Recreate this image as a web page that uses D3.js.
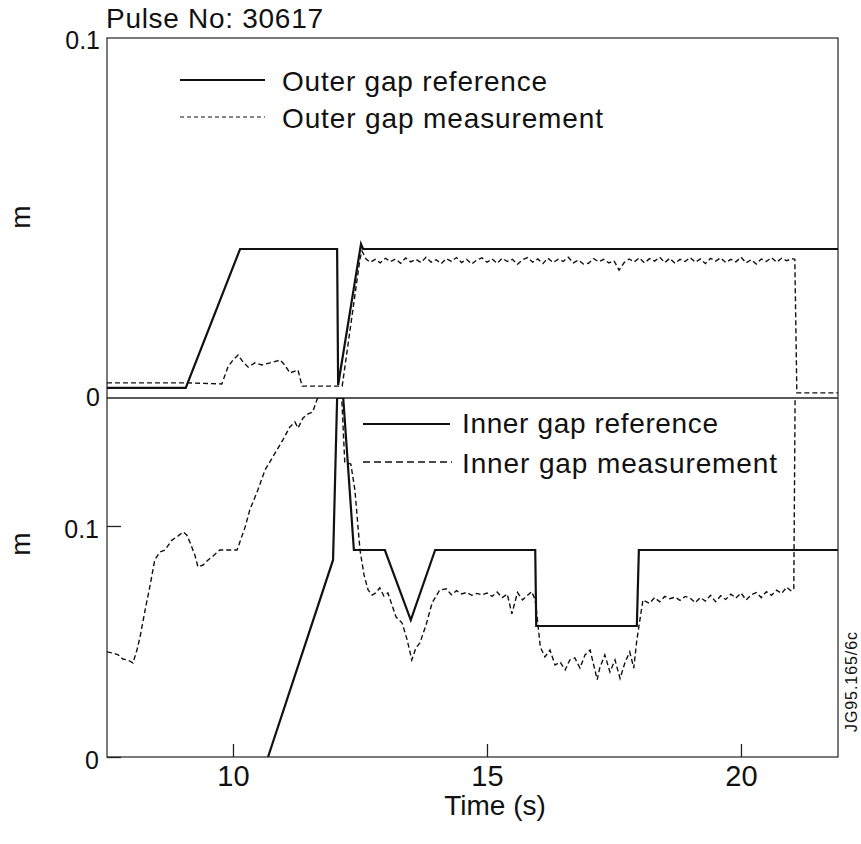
<!DOCTYPE html>
<html lang="en">
<head>
<meta charset="utf-8">
<title>Pulse No: 30617</title>
<script src="https://d3js.org/d3.v7.min.js"></script>
<style>
  body { margin: 0; background: #fff; }
  svg text { font-family: "Liberation Sans", Arial, Helvetica, sans-serif; fill: #111; }
</style>
</head>
<body>
<div id="chart"></div>
<script>
// [time (s), gap (m)]
const outerRef = [
  [7.52, 0.0020], [9.07, 0.0020], [10.14, 0.0409], [12.05, 0.0409], [12.07, 0.0028],
  [12.52, 0.0423], [12.56, 0.0409], [21.91, 0.0409]
];
const outerMeas = [
  [7.52, .0034], [9.07, .0034], [9.78, .0031], [9.90, .0078], [10.00, .0098], [10.10, .0112],
  [10.20, .0092], [10.30, .0078], [10.43, .0090], [10.57, .0084], [10.73, .0090], [10.93, .0098],
  [11.02, .0084], [11.12, .0062], [11.28, .0070], [11.36, .0025], [12.15, .0025], [12.50, .0381],
  [12.54, .0403], [12.62, .0381],
  [12.7, .0372], [12.8, .0380], [12.9, .0370], [13.0, .0383], [13.1, .0374], [13.2, .0381],
  [13.3, .0369], [13.4, .0384], [13.5, .0373], [13.6, .0380], [13.7, .0371], [13.8, .0386],
  [13.9, .0372], [14.0, .0379], [14.1, .0368], [14.2, .0382], [14.3, .0374], [14.4, .0385],
  [14.5, .0371], [14.6, .0380], [14.7, .0367], [14.8, .0378], [14.9, .0384], [15.0, .0372],
  [15.1, .0381], [15.2, .0369], [15.3, .0383], [15.4, .0374], [15.5, .0380], [15.6, .0366],
  [15.7, .0379], [15.8, .0385], [15.9, .0372], [16.0, .0381], [16.1, .0368], [16.2, .0383],
  [16.3, .0371], [16.4, .0380], [16.5, .0374], [16.6, .0386], [16.7, .0370], [16.8, .0378],
  [16.9, .0367], [17.0, .0369], [17.1, .0382], [17.2, .0373], [17.3, .0380], [17.4, .0370],
  [17.5, .0376], [17.6, .0350], [17.7, .0371], [17.8, .0381], [17.9, .0373], [18.0, .0384],
  [18.1, .0370], [18.2, .0382], [18.3, .0375], [18.4, .0386], [18.5, .0371], [18.6, .0383],
  [18.7, .0369], [18.8, .0380], [18.9, .0374], [19.0, .0385], [19.1, .0372], [19.2, .0381],
  [19.3, .0368], [19.4, .0383], [19.5, .0375], [19.6, .0384], [19.7, .0371], [19.8, .0380],
  [19.9, .0373], [20.0, .0386], [20.1, .0370], [20.2, .0379], [20.3, .0367], [20.4, .0381],
  [20.5, .0374], [20.6, .0385], [20.7, .0372], [20.8, .0383], [20.9, .0376], [21.0, .0382],
  [21.06, .0380], [21.10, .0006], [21.91, .0006]
];
const innerRef = [
  [10.69, 0], [11.97, 0.0853], [12.05, 0.1554], [12.17, 0.1554], [12.38, 0.0896], [12.99, 0.0896],
  [13.50, 0.0593], [13.98, 0.0896], [15.95, 0.0896], [15.97, 0.0567], [17.95, 0.0567],
  [17.99, 0.0896], [21.91, 0.0896]
];
const innerMeas = [
  [7.52, .0455], [7.64, .0450], [7.74, .0442], [7.83, .0424], [7.93, .0420], [8.03, .0407],
  [8.11, .0463], [8.17, .0519], [8.27, .0636], [8.37, .0745], [8.46, .0853], [8.56, .0887],
  [8.66, .0896], [8.80, .0939], [8.92, .0957], [9.02, .0974], [9.09, .0961], [9.15, .0931],
  [9.25, .0874], [9.31, .0823], [9.41, .0831], [9.51, .0853], [9.61, .0870], [9.74, .0896],
  [10.08, .0896], [10.24, .0996], [10.33, .1069], [10.49, .1156], [10.63, .1242], [10.83, .1316],
  [10.98, .1372], [11.12, .1429], [11.22, .1450], [11.28, .1424], [11.38, .1468], [11.48, .1485],
  [11.57, .1494], [11.65, .1545], [11.69, .1563], [11.75, .1650], [12.12, .1650], [12.20, .1277],
  [12.32, .1268], [12.40, .1156], [12.50, .0896], [12.58, .0788], [12.66, .0723], [12.74, .0701],
  [12.81, .0710], [12.89, .0732], [12.97, .0697], [13.05, .0710], [13.13, .0658], [13.21, .0606],
  [13.33, .0580], [13.43, .0506], [13.52, .0420], [13.60, .0472], [13.68, .0494], [13.80, .0571],
  [13.92, .0667], [14.07, .0723],
  [14.2, .0728], [14.3, .0702], [14.4, .0720], [14.5, .0706], [14.6, .0712], [14.7, .0700],
  [14.8, .0708], [14.9, .0702], [15.0, .0710], [15.1, .0695], [15.2, .0714], [15.3, .0690],
  [15.4, .0705], [15.49, .0620], [15.6, .0712], [15.7, .0680], [15.8, .0700], [15.88, .0716],
  [15.95, .0680], [15.98, .0620], [16.05, .0476],
  [16.14, .0433], [16.24, .0463], [16.34, .0398], [16.44, .0411], [16.54, .0377], [16.63, .0420],
  [16.73, .0429], [16.83, .0385], [16.93, .0442], [17.03, .0463], [17.17, .0335], [17.22, .0385],
  [17.32, .0442], [17.42, .0368], [17.52, .0420], [17.62, .0340], [17.72, .0411], [17.81, .0455],
  [17.89, .0385], [17.95, .0506], [18.07, .0680],
  [18.2, .0665], [18.3, .0690], [18.4, .0672], [18.5, .0695], [18.6, .0685], [18.7, .0692],
  [18.8, .0678], [18.9, .0695], [19.0, .0688], [19.1, .0668], [19.2, .0690], [19.3, .0675],
  [19.4, .0700], [19.5, .0672], [19.6, .0698], [19.7, .0682], [19.8, .0705], [19.9, .0688],
  [20.0, .0710], [20.1, .0680], [20.2, .0702], [20.3, .0712], [20.4, .0690], [20.5, .0716],
  [20.6, .0700], [20.7, .0722], [20.8, .0708], [20.9, .0735], [20.98, .0720], [21.04, .0725],
  [21.07, .1700]
];

const timeDomain = [7.52, 21.91];
const outerDomain = [-0.00084, 0.1];
const innerDomain = [0, 0.1554];
const xTicks = [10, 15, 20];
const outerTicks = [0, 0.1];
const innerTicks = [0, 0.1];

const box = { left: 107, right: 838, top: 38, mid: 398, bottom: 757 };

const svg = d3.select("#chart").append("svg")
  .attr("width", 861)
  .attr("height", 844);

const x = d3.scaleLinear().domain(timeDomain).range([box.left, box.right]);
const yTop = d3.scaleLinear().domain(outerDomain).range([box.mid, box.top]);
const yBot = d3.scaleLinear().domain(innerDomain).range([box.bottom, box.mid]);

// clip each panel
const defs = svg.append("defs");
defs.append("clipPath").attr("id", "clipTop").append("rect")
  .attr("x", box.left).attr("y", box.top)
  .attr("width", box.right - box.left).attr("height", box.mid - box.top);
defs.append("clipPath").attr("id", "clipBot").append("rect")
  .attr("x", box.left).attr("y", box.mid)
  .attr("width", box.right - box.left).attr("height", box.bottom - box.mid);

// frame
svg.append("rect")
  .attr("x", box.left).attr("y", box.top)
  .attr("width", box.right - box.left).attr("height", box.bottom - box.top)
  .attr("fill", "none").attr("stroke", "#222").attr("stroke-width", 1.2);
svg.append("line")
  .attr("x1", box.left).attr("x2", box.right)
  .attr("y1", box.mid).attr("y2", box.mid)
  .attr("stroke", "#222").attr("stroke-width", 1.3);

// axes
const xAxis = svg.append("g")
  .attr("transform", `translate(0,${box.bottom})`)
  .call(d3.axisBottom(x).tickValues(xTicks).tickSizeInner(-13).tickSizeOuter(0).tickPadding(8))
  .attr("font-size", 29);
xAxis.select(".domain").remove();
xAxis.selectAll(".tick line").attr("stroke", "#222").attr("stroke-width", 1.3);

const topAxis = svg.append("g")
  .attr("transform", `translate(${box.left},0)`)
  .call(d3.axisLeft(yTop).tickValues(outerTicks).tickFormat(d => d === 0 ? "0" : "0.1")
    .tickSize(0).tickPadding(7))
  .attr("font-size", 25);
topAxis.select(".domain").remove();
topAxis.selectAll(".tick text").attr("dy", "0.4em");

const botAxis = svg.append("g")
  .attr("transform", `translate(${box.left},0)`)
  .call(d3.axisLeft(yBot).tickValues(innerTicks).tickFormat(d => d === 0 ? "0" : "0.1")
    .tickSizeInner(-14).tickSizeOuter(0).tickPadding(8))
  .attr("font-size", 25);
botAxis.select(".domain").remove();
botAxis.selectAll(".tick line").attr("stroke", "#222").attr("stroke-width", 1.3);
botAxis.selectAll(".tick text").attr("dy", "0.45em");

// curves
const lineTop = d3.line().x(d => x(d[0])).y(d => yTop(d[1]));
const lineBot = d3.line().x(d => x(d[0])).y(d => yBot(d[1]));

const gTop = svg.append("g").attr("clip-path", "url(#clipTop)");
const gBot = svg.append("g").attr("clip-path", "url(#clipBot)");

gTop.append("path").attr("d", lineTop(outerMeas))
  .attr("fill", "none").attr("stroke", "#111").attr("stroke-width", 1.4)
  .attr("stroke-dasharray", "5,3");
gTop.append("path").attr("d", lineTop(outerRef))
  .attr("fill", "none").attr("stroke", "#111").attr("stroke-width", 2.2);

gBot.append("path").attr("d", lineBot(innerMeas))
  .attr("fill", "none").attr("stroke", "#111").attr("stroke-width", 1.4)
  .attr("stroke-dasharray", "5,3");
gBot.append("path").attr("d", lineBot(innerRef))
  .attr("fill", "none").attr("stroke", "#111").attr("stroke-width", 2.2);

// legends
function legendRow(x1, x2, y, dash, width, label, tx, ty, len) {
  svg.append("line").attr("x1", x1).attr("x2", x2).attr("y1", y).attr("y2", y)
    .attr("stroke", "#111").attr("stroke-width", width)
    .attr("stroke-dasharray", dash);
  svg.append("text").attr("x", tx).attr("y", ty)
    .attr("font-size", 28).attr("textLength", len).attr("lengthAdjust", "spacing")
    .text(label);
}
legendRow(180, 265, 80, null, 2, "Outer gap reference", 282, 91, 265);
legendRow(180, 265, 117, "4,3", 1, "Outer gap measurement", 282, 128, 321);
legendRow(363, 450, 424, null, 2, "Inner gap reference", 462, 433, 256);
legendRow(363, 452, 462, "7,4", 1.6, "Inner gap measurement", 462, 473, 315);

// titles and labels
svg.append("text").attr("x", 106).attr("y", 28)
  .attr("font-size", 28).attr("textLength", 217).attr("lengthAdjust", "spacing")
  .text("Pulse No: 30617");

svg.append("text").attr("x", 495).attr("y", 815)
  .attr("text-anchor", "middle").attr("font-size", 28)
  .text("Time (s)");

svg.append("text")
  .attr("transform", "translate(30,217) rotate(-90)")
  .attr("text-anchor", "middle").attr("font-size", 28)
  .text("m");
svg.append("text")
  .attr("transform", "translate(30,544) rotate(-90)")
  .attr("text-anchor", "middle").attr("font-size", 28)
  .text("m");

svg.append("text")
  .attr("transform", "translate(857,682) rotate(-90)")
  .attr("text-anchor", "middle").attr("font-size", 16)
  .attr("textLength", 100).attr("lengthAdjust", "spacing")
  .text("JG95.165/6c");
</script>
</body>
</html>
